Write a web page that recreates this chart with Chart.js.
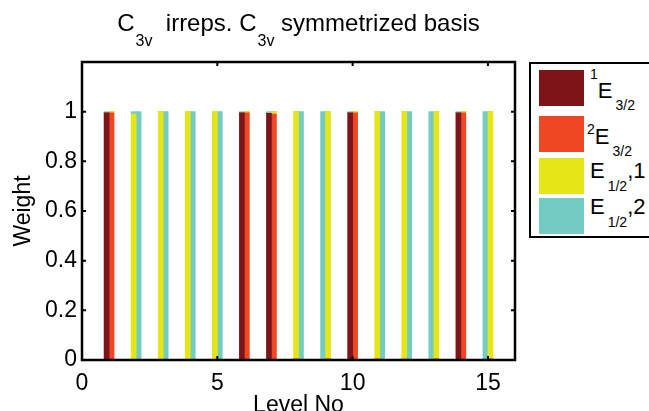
<!DOCTYPE html>
<html>
<head>
<meta charset="utf-8">
<script src="https://cdn.jsdelivr.net/npm/chart.js@4.4.1/dist/chart.umd.min.js"></script>
<style>
body { margin:0; background:#fff; font-family:'Liberation Sans', Arial, sans-serif; }
#wrap { position:relative; width:649px; height:411px; overflow:hidden; }
#title { position:absolute; left:82px; width:433px; top:11px; text-align:center; font-size:24px; line-height:24px; white-space:nowrap; color:#000; }
.tsub { position:relative; top:15px; font-size:16px; margin-left:1px; }
#legend { position:absolute; left:529px; top:62px; width:140px; height:172px; border:2px solid #000; background:#fff; }
.sw { position:absolute; left:8px; width:45px; height:36px; }
.lab { position:absolute; font-size:22px; line-height:22px; white-space:nowrap; color:#000; }
.lab .up, .lab .dn { position:relative; font-size:14px; }
.lab .dn { margin-left:3px; }
</style>
</head>
<body>
<div id="wrap">
  <canvas id="bar-chart" width="649" height="411"></canvas>
  <div id="title">C<span class="tsub">3v</span>&nbsp; irreps. C<span class="tsub">3v</span> symmetrized basis</div>
  <div id="legend"></div>
</div>
<script>
// level numbers on the x axis
var levels = [1, 2, 3, 4, 5, 6, 7, 8, 9, 10, 11, 12, 13, 14, 15];

// each level is a doublet: left state (a) and right state (b), weights per irrep
var e1_a = [0.995, 0, 0, 0, 0, 0.995, 0.993, 0, 0, 0.995, 0, 0, 0, 0.995, 0];
var e2_a = [0, 0, 0, 0, 0, 0, 0, 0.005, 0, 0, 0.005, 0.004, 0, 0, 0];
var e3_a = [0, 0.99, 1, 1, 1, 0, 0, 0.995, 0, 0, 0.995, 0.996, 0, 0, 0];
var e4_a = [0.005, 0.01, 0, 0, 0, 0.005, 0.007, 0, 1, 0.005, 0, 0, 1, 0.005, 1];

var e1_b = [0, 0, 0, 0, 0, 0, 0, 0, 0, 0, 0, 0, 0, 0, 0];
var e2_b = [0.995, 0, 0, 0, 0, 0.995, 0.99, 0, 0.005, 0.995, 0, 0, 0.005, 0.995, 0.005];
var e3_b = [0.005, 0, 0, 0, 0, 0.005, 0.01, 0, 0.995, 0.005, 0, 0, 0.995, 0.005, 0.995];
var e4_b = [0, 1, 1, 1, 1, 0, 0, 1, 0, 0, 1, 1, 0, 0, 0];

var irrepNames = ['1E3/2', '2E3/2', 'E1/2,1', 'E1/2,2'];
var irrepColors = ['#7d1418', '#ef4623', '#e6e617', '#74cbc2'];

var xTicks = [0, 5, 10, 15];
var yTicks = [0, 0.2, 0.4, 0.6, 0.8, 1];

// legend text pieces (superscript, base, subscript, tail)
var legendParts = [
    ['1', 'E', '3/2', ''],
    ['2', 'E', '3/2', ''],
    ['', 'E', '1/2', ',1'],
    ['', 'E', '1/2', ',2']
];

// half distance between the two states of a doublet, in level units
var pairOffset = 0.092;

function doublet(a, b) {
    var pts = [];
    for (var i = 0; i < levels.length; i++) {
        pts.push({x: levels[i] - pairOffset, y: a[i]});
        pts.push({x: levels[i] + pairOffset, y: b[i]});
    }
    return pts;
}

var series = [[e1_a, e1_b], [e2_a, e2_b], [e3_a, e3_b], [e4_a, e4_b]];

var datasets = [];
for (var k = 0; k < series.length; k++) {
    datasets.push({
        label: irrepNames[k],
        data: doublet(series[k][0], series[k][1]),
        backgroundColor: irrepColors[k],
        borderWidth: 0,
        barThickness: 5,
        grouped: false
    });
}

// box round the axes with inward ticks on all four sides
var axesBox = {
    id: 'axesBox',
    afterDatasetsDraw: function (chart) {
        var ctx = chart.ctx, a = chart.chartArea;
        var x = chart.scales.x, y = chart.scales.y;
        ctx.save();
        ctx.strokeStyle = '#000';
        ctx.lineWidth = 2;
        ctx.beginPath();
        y.ticks.forEach(function (t) {
            var py = y.getPixelForValue(t.value);
            ctx.moveTo(a.left, py); ctx.lineTo(a.left + 4, py);
            ctx.moveTo(a.right, py); ctx.lineTo(a.right - 4, py);
        });
        x.ticks.forEach(function (t) {
            var px = x.getPixelForValue(t.value);
            ctx.moveTo(px, a.bottom); ctx.lineTo(px, a.bottom - 4);
            ctx.moveTo(px, a.top); ctx.lineTo(px, a.top + 4);
        });
        ctx.stroke();
        ctx.lineWidth = 2.5;
        ctx.strokeRect(a.left, a.top, a.right - a.left, a.bottom - a.top);
        ctx.restore();
    }
};

var fontFam = "'Liberation Sans', Arial, sans-serif";

var bar_chart = new Chart(document.getElementById('bar-chart'), {
    type: 'bar',
    data: {datasets: datasets},
    plugins: [axesBox],
    options: {
        responsive: false,
        animation: false,
        layout: {padding: {top: 62, right: 134, left: 0, bottom: 0}},
        plugins: {legend: {display: false}, tooltip: {enabled: false}, title: {display: false}},
        scales: {
            x: {
                type: 'linear',
                min: 0,
                max: 16,
                offset: false,
                grid: {display: false, drawTicks: false},
                border: {display: false},
                afterBuildTicks: function (s) {
                    s.ticks = xTicks.map(function (v) { return {value: v}; });
                },
                afterFit: function (s) { s.height = 51; },
                ticks: {color: '#000', padding: 10, maxRotation: 0, font: {family: fontFam, size: 23},
                        callback: function (v) { return String(v); }},
                title: {display: true, text: 'Level No', color: '#000',
                        font: {family: fontFam, size: 23, lineHeight: 1}, padding: {top: 0, bottom: -6}}
            },
            y: {
                min: 0,
                max: 1.2,
                stacked: true,
                grid: {display: false, drawTicks: false},
                border: {display: false},
                afterBuildTicks: function (s) {
                    s.ticks = yTicks.map(function (v) { return {value: v}; });
                },
                afterFit: function (s) { s.width = 82; },
                ticks: {color: '#000', padding: 5, font: {family: fontFam, size: 23},
                        callback: function (v) { return String(v); }},
                title: {display: true, text: 'Weight', color: '#000',
                        font: {family: fontFam, size: 23, lineHeight: 1}, padding: {top: 12, bottom: 0}}
            }
        }
    }
});

// legend in its own box, built from the chart's datasets
var swTop = [6, 52, 94, 134];
var labTop = [16, 62, 96, 132];
var labLeft = [59, 56, 59, 59];
var upShift = [-19, -10, 0, 0];
var dnShift = [12, 12, 13, 13];
var legendHtml = '';
bar_chart.data.datasets.forEach(function (ds, i) {
    var p = legendParts[i];
    legendHtml += '<div class="sw" style="top:' + swTop[i] + 'px;background:' + ds.backgroundColor + '"></div>';
    legendHtml += '<div class="lab" style="top:' + labTop[i] + 'px;left:' + labLeft[i] + 'px">';
    if (p[0]) legendHtml += '<span class="up" style="top:' + upShift[i] + 'px">' + p[0] + '</span>';
    legendHtml += p[1] + '<span class="dn" style="top:' + dnShift[i] + 'px">' + p[2] + '</span>' + p[3] + '</div>';
});
document.getElementById('legend').innerHTML = legendHtml;
</script>
</body>
</html>
